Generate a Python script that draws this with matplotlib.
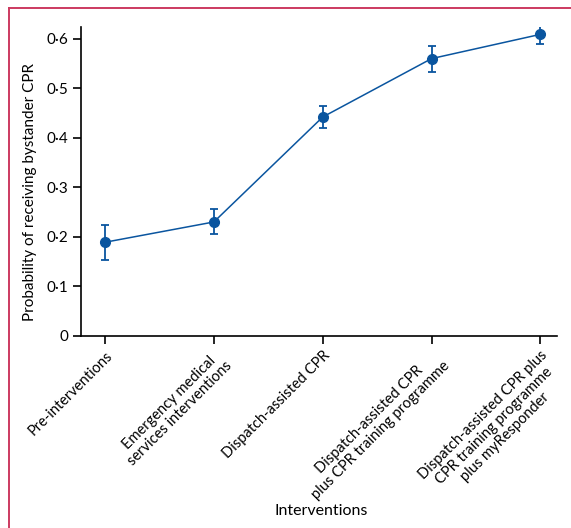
import matplotlib
matplotlib.use("Agg")
import matplotlib.pyplot as plt
from matplotlib.lines import Line2D

plt.rcParams["font.family"] = ["Lato", "DejaVu Sans"]

# Data
categories = [
    "Pre-interventions",
    "Emergency medical\nservices interventions",
    "Dispatch-assisted CPR",
    "Dispatch-assisted CPR\nplus CPR training programme",
    "Dispatch-assisted CPR plus\nCPR training programme\nplus myResponder",
]
prob = [0.189, 0.230, 0.442, 0.560, 0.609]
ci_low = [0.154, 0.206, 0.420, 0.533, 0.590]
ci_high = [0.224, 0.257, 0.465, 0.586, 0.628]
yticks = [0, 0.1, 0.2, 0.3, 0.4, 0.5, 0.6]
ytick_labels = ["0", "0·1", "0·2", "0·3", "0·4", "0·5", "0·6"]

blue = "#0a559f"

fig = plt.figure(figsize=(5.71, 5.28), dpi=100)
ax = fig.add_axes([0.142, 0.364, 0.833, 0.585])

x = list(range(len(categories)))
yerr = [[p - lo for p, lo in zip(prob, ci_low)],
        [hi - p for p, hi in zip(prob, ci_high)]]
ax.errorbar(x, prob, yerr=yerr, color=blue, marker="o", markersize=7,
            linewidth=1.1, elinewidth=1.3, capsize=3, capthick=1.3)

ax.set_xlim(-0.22, 4.15)
ax.set_ylim(0, 0.624)
ax.set_yticks(yticks)
ax.set_yticklabels(ytick_labels, fontsize=11)
ax.set_xticks(x)
ax.set_xticklabels(categories, rotation=45, ha="right", rotation_mode="anchor",
                   multialignment="center", fontsize=10.5, linespacing=1.1)

for side in ["top", "right"]:
    ax.spines[side].set_visible(False)
for side in ["left", "bottom"]:
    ax.spines[side].set_linewidth(1.2)
ax.tick_params(direction="out", length=6, width=1.2, pad=3)

ax.set_ylabel("Probability of receiving bystander CPR", fontsize=11)
ax.yaxis.set_label_coords(-0.093, 0.465)
fig.text(0.563, 0.033, "Interventions", ha="center", va="center", fontsize=11.5)

# Crimson frame (left and top edges visible)
frame_color = "#cc3a60"
fig.add_artist(Line2D([0.015, 0.015], [0.0, 0.985], color=frame_color, lw=1.4,
                      transform=fig.transFigure))
fig.add_artist(Line2D([0.015, 1.0], [0.985, 0.985], color=frame_color, lw=1.4,
                      transform=fig.transFigure))

fig.savefig("out.png", dpi=100)
